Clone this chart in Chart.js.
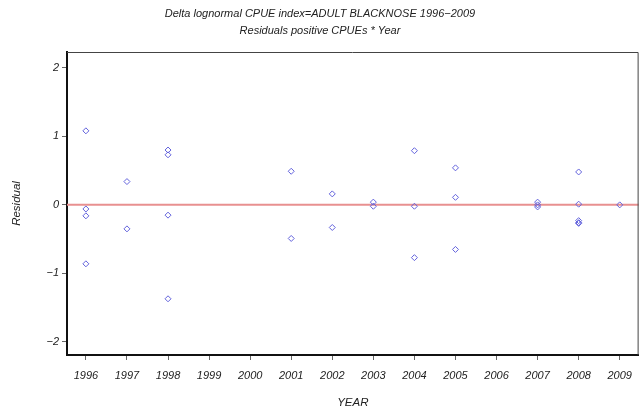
<!DOCTYPE html>
<html>
<head>
<meta charset="utf-8">
<script src="https://cdn.jsdelivr.net/npm/chart.js@4/dist/chart.umd.min.js"></script>
<style>
  body { margin: 0; background: #fff; }
</style>
</head>
<body>
<canvas id="residChart" width="641" height="415"></canvas>
<script>
const titleLines = ["Delta lognormal CPUE index=ADULT BLACKNOSE 1996\u22122009", "Residuals positive CPUEs * Year"];
const years = [1996, 1997, 1998, 1999, 2000, 2001, 2002, 2003, 2004, 2005, 2006, 2007, 2008, 2009];
const residualTicks = [-2, -1, 0, 1, 2];
const pointYears = [1996, 1996, 1996, 1996, 1997, 1997, 1998, 1998, 1998, 1998,
  2001, 2001, 2002, 2002, 2003, 2003, 2004, 2004, 2004, 2005, 2005, 2005,
  2007, 2007, 2007, 2008, 2008, 2008, 2008, 2008, 2009];
const residuals = [1.08, -0.06, -0.16, -0.86, 0.34, -0.35, 0.80, 0.73, -0.15, -1.37,
  0.49, -0.49, 0.16, -0.33, 0.04, -0.02, 0.79, -0.02, -0.77, 0.54, 0.11, -0.65,
  0.04, 0.00, -0.03, 0.48, 0.01, -0.23, -0.26, -0.27, 0.00];

const FONT = "'Liberation Sans', Arial, sans-serif";

// red reference line at zero + frame around plot
const refLine = {
  id: "refLine",
  beforeDatasetsDraw(chart) {
    const { ctx, chartArea: a, scales } = chart;
    const y0 = scales.y.getPixelForValue(0);
    ctx.save();
    ctx.strokeStyle = "#e89090";
    ctx.lineWidth = 2;
    ctx.beginPath();
    ctx.moveTo(a.left, y0);
    ctx.lineTo(a.right, y0);
    ctx.stroke();
    ctx.strokeStyle = "#444";
    ctx.lineWidth = 1;
    ctx.beginPath();
    ctx.moveTo(a.left, a.top + 0.5);
    ctx.lineTo(a.right - 0.5, a.top + 0.5);
    ctx.lineTo(a.right - 0.5, a.bottom);
    ctx.stroke();
    ctx.restore();
  }
};

const ctx = document.getElementById("residChart").getContext("2d");

new Chart(ctx, {
  type: "scatter",
  data: {
    datasets: [{
      data: pointYears.map((yr, i) => ({ x: yr, y: residuals[i] })),
      pointStyle: "rectRot",
      pointRadius: 3,
      borderColor: "#6262dc",
      borderWidth: 1,
      backgroundColor: "rgba(0,0,0,0)",
    }],
  },
  options: {
    responsive: false,
    animation: false,
    layout: { autoPadding: false, padding: { left: 0, right: 1, top: 0, bottom: 0 } },
    plugins: {
      legend: { display: false },
      tooltip: { enabled: false },
      title: {
        display: true,
        text: titleLines,
        color: "#222",
        font: { family: FONT, size: 11, style: "italic", weight: "normal", lineHeight: 17 / 11 },
        padding: { top: 5, bottom: 13 },
      },
    },
    scales: {
      x: {
        type: "linear",
        min: 1995.54,
        max: 2009.46,
        afterBuildTicks: (s) => { s.ticks = years.map(v => ({ value: v })); },
        afterFit: (s) => { s.height = 60; },
        grid: { drawOnChartArea: false, drawTicks: true, tickLength: 5, color: "#666" },
        border: { display: true, color: "#111", width: 2 },
        ticks: {
          color: "#222",
          padding: 9,
          maxRotation: 0,
          autoSkip: false,
          font: { family: FONT, size: 11, style: "italic" },
          callback: (v) => String(v),
        },
        title: {
          display: true,
          text: "YEAR",
          color: "#222",
          font: { family: FONT, size: 11.5, style: "italic" },
          padding: { top: 4, bottom: 5 },
        },
      },
      y: {
        min: -2.19,
        max: 2.23,
        afterBuildTicks: (s) => { s.ticks = residualTicks.map(v => ({ value: v })); },
        afterFit: (s) => { s.width = 67; },
        grid: { drawOnChartArea: false, drawTicks: true, tickLength: 5, color: "#666" },
        border: { display: true, color: "#111", width: 2 },
        ticks: {
          color: "#222",
          padding: 3,
          font: { family: FONT, size: 11, style: "italic" },
          callback: (v) => String(v).replace("-", "\u2212"),
        },
        title: {
          display: true,
          text: "Residual",
          color: "#222",
          font: { family: FONT, size: 11.5, style: "italic" },
          padding: { top: 10, bottom: 5 },
        },
      },
    },
  },
  plugins: [refLine],
});
</script>
</body>
</html>
